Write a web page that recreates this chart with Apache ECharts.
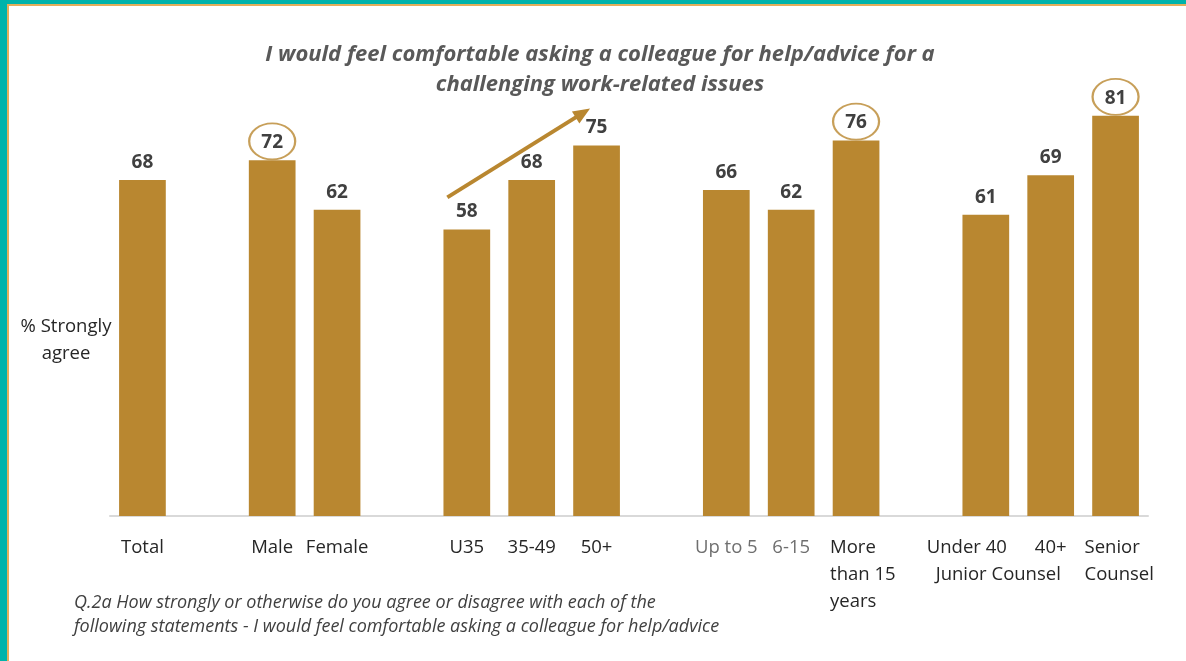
<!DOCTYPE html>
<html>
<head>
<meta charset="utf-8">
<title>Comfortable asking a colleague for help</title>
<script src="https://cdn.jsdelivr.net/npm/echarts@6/dist/echarts.min.js"></script>
<style>
  html, body { margin: 0; padding: 0; background: #ffffff; }
  #chart { width: 1186px; height: 661px; }
</style>
</head>
<body>
<div id="chart"></div>
<script>
// Categories (empty slots separate the groups)
const categories = ['Total', '', 'Male', 'Female', '', 'U35', '35-49', '50+', '',
  'Up to 5', '6-15', 'More\nthan 15\nyears', '', 'Under 40', '40+', 'Senior\nCounsel'];
// % strongly agree per category
const values = [68, null, 72, 62, null, 58, 68, 75, null, 66, 62, 76, null, 61, 69, 81];
// Categories whose value is circled
const circled = [2, 11, 15];
// Group caption under two of the categories
const groupCaption = 'Junior Counsel';
const groupMembers = [13, 14];

const titleText = 'I would feel comfortable asking a colleague for help/advice for a\nchallenging work-related issues';
const footText = 'Q.2a How strongly or otherwise do you agree or disagree with each of the\nfollowing statements - I would feel comfortable asking a colleague for help/advice';
const yTitle = '% Strongly\nagree';

const GOLD = '#B98730';
const FONT = '"Open Sans", Lato, sans-serif';
const LABEL_SIZE = 18.5;

const chart = echarts.init(document.getElementById('chart'), null, { renderer: 'canvas' });

const axisData = categories.map(function (c) {
  const item = { value: c };
  if (c === 'Up to 5' || c === '6-15') item.textStyle = { color: '#6f6f6f' };
  if (c === 'Under 40') item.textStyle = { padding: [0, 38, 0, 0] };
  if (c === 'More\nthan 15\nyears') item.textStyle = { padding: [0, 0, 0, 22] };
  if (c === 'Senior\nCounsel') item.textStyle = { padding: [0, 0, 0, 12] };
  return item;
});

chart.setOption({
  animation: false,
  backgroundColor: '#ffffff',
  title: [
    {
      text: titleText,
      left: 595, top: 35, textAlign: 'center',
      textStyle: { fontFamily: FONT, fontSize: 22, fontWeight: 'bold', fontStyle: 'italic',
        color: '#595959', lineHeight: 30, align: 'center' }
    },
    {
      text: footText,
      left: 69, top: 586,
      textStyle: { fontFamily: FONT, fontSize: 18, fontWeight: 'normal', fontStyle: 'italic',
        color: '#404040', lineHeight: 24 }
    },
    {
      text: yTitle,
      left: 61, top: 308, textAlign: 'center',
      textStyle: { fontFamily: FONT, fontSize: 18.5, fontWeight: 'normal', color: '#262626',
        lineHeight: 27, align: 'center' }
    }
  ],
  grid: { left: 110, right: 38, top: 22, bottom: 145 },
  xAxis: {
    type: 'category',
    data: axisData,
    axisLine: { show: true, lineStyle: { color: '#d9d9d9', width: 2 } },
    axisTick: { show: false },
    axisLabel: {
      interval: 0, margin: 18,
      fontFamily: FONT, fontSize: LABEL_SIZE, color: '#262626', lineHeight: 27,
      formatter: function (v) {
        if (v.indexOf('\n') >= 0) {
          return v.split('\n').map(function (s) { return '{l|' + s + '}'; }).join('\n');
        }
        return v;
      },
      rich: {
        l: { width: 74, align: 'left', fontFamily: FONT, fontSize: LABEL_SIZE, color: '#262626', lineHeight: 27 }
      }
    }
  },
  yAxis: {
    type: 'value', min: 0, max: 100,
    show: false,
    splitLine: { show: false }
  },
  series: [
    {
      type: 'bar',
      data: values,
      barCategoryGap: '28%',
      itemStyle: { color: GOLD },
      label: {
        show: true, position: 'top', distance: 8,
        fontFamily: FONT, fontSize: 19, fontWeight: 'bold', color: '#404040'
      },
      z: 2
    },
    {
      type: 'scatter',
      data: circled.map(function (i) { return [i, values[i]]; }),
      symbol: 'circle',
      symbolSize: [46, 36],
      symbolOffset: [0, -19],
      itemStyle: { color: 'rgba(0,0,0,0)', borderColor: GOLD, borderWidth: 2 },
      silent: true,
      z: 3
    }
  ]
});

// Pixel helpers built on the chart's own axes
function px(i, v) {
  return chart.convertToPixel({ xAxisIndex: 0, yAxisIndex: 0 }, [i, v]);
}
function slotX(pos) {
  const base = Math.floor(pos);
  const a = px(base, 0)[0];
  const b = px(base + 1, 0)[0];
  return a + (b - a) * (pos - base);
}

// Trend arrow across the age group (U35 -> 50+)
const arrowFrom = [4.7, 64.5];
const arrowTo = [6.9, 82.5];
const p1 = [slotX(arrowFrom[0]), px(0, arrowFrom[1])[1]];
const p2 = [slotX(arrowTo[0]), px(0, arrowTo[1])[1]];
const ang = Math.atan2(p2[1] - p1[1], p2[0] - p1[0]);
const headLen = 17, headHalf = 7;
const back = [p2[0] - headLen * Math.cos(ang), p2[1] - headLen * Math.sin(ang)];
const perp = [-Math.sin(ang), Math.cos(ang)];

// Caption for the junior counsel pair
const capX = (px(groupMembers[0], 0)[0] + px(groupMembers[1], 0)[0]) / 2 - 20;
const capY = px(0, 0)[1] + 59;

chart.setOption({
  graphic: [
    // frame: teal band with a thin amber rule
    { type: 'rect', shape: { x: 0, y: 0, width: 7, height: 661 }, style: { fill: '#00B3AB' } },
    { type: 'rect', shape: { x: 0, y: 0, width: 1186, height: 4 }, style: { fill: '#00B3AB' } },
    { type: 'rect', shape: { x: 7, y: 4, width: 1179, height: 2 }, style: { fill: '#E4AE5C' } },
    { type: 'rect', shape: { x: 7, y: 4, width: 2, height: 657 }, style: { fill: '#E4AE5C' } },
    {
      type: 'line',
      shape: { x1: p1[0], y1: p1[1], x2: back[0] + 2 * Math.cos(ang), y2: back[1] + 2 * Math.sin(ang) },
      style: { stroke: GOLD, lineWidth: 4 }
    },
    {
      type: 'polygon',
      shape: { points: [
        p2,
        [back[0] + perp[0] * headHalf, back[1] + perp[1] * headHalf],
        [back[0] - perp[0] * headHalf, back[1] - perp[1] * headHalf]
      ] },
      style: { fill: GOLD }
    },
    {
      type: 'text',
      x: capX, y: capY,
      style: { text: groupCaption, fontFamily: FONT, fontSize: LABEL_SIZE, fill: '#262626',
        align: 'center', verticalAlign: 'middle' }
    }
  ]
});
</script>
</body>
</html>
